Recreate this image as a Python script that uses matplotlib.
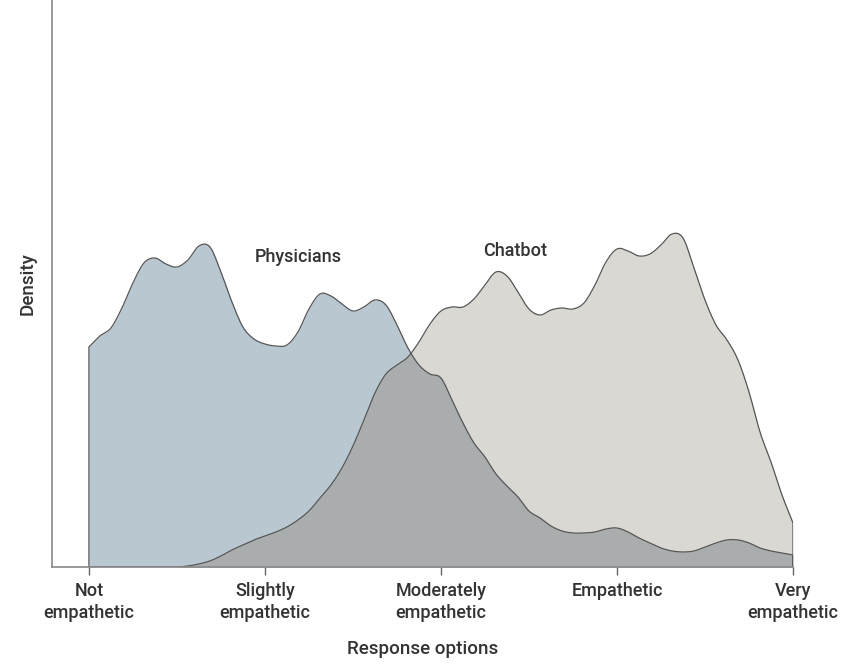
import matplotlib.pyplot as plt
import numpy as np

plt.rcParams['font.family'] = ['Roboto', 'DejaVu Sans']

# response scale (1 = not empathetic ... 5 = very empathetic), read every 1/16 unit
x = np.linspace(1, 5, 65)

# density values (arbitrary units)
physicians = [2.20, 2.31, 2.39, 2.59, 2.84, 3.04, 3.09, 3.03, 3.00, 3.07,
              3.21, 3.20, 2.95, 2.65, 2.40, 2.28, 2.23, 2.21, 2.22, 2.35,
              2.58, 2.73, 2.71, 2.63, 2.56, 2.60, 2.67, 2.62, 2.42, 2.19,
              2.02, 1.93, 1.89, 1.67, 1.44, 1.24, 1.10, 0.93, 0.81, 0.70,
              0.56, 0.49, 0.41, 0.36, 0.34, 0.34, 0.35, 0.38, 0.39, 0.35,
              0.29, 0.24, 0.19, 0.16, 0.15, 0.16, 0.20, 0.24, 0.27, 0.27,
              0.24, 0.19, 0.16, 0.14, 0.12]
chatbot = [0.00, 0.00, 0.00, 0.00, 0.00, 0.00, 0.00, 0.00, 0.00, 0.01,
           0.03, 0.06, 0.11, 0.17, 0.22, 0.27, 0.31, 0.35, 0.40, 0.47,
           0.56, 0.69, 0.82, 0.99, 1.21, 1.47, 1.74, 1.93, 2.02, 2.10,
           2.25, 2.43, 2.56, 2.60, 2.60, 2.68, 2.82, 2.95, 2.91, 2.75,
           2.58, 2.52, 2.57, 2.59, 2.58, 2.64, 2.82, 3.05, 3.18, 3.16,
           3.11, 3.13, 3.22, 3.33, 3.29, 2.99, 2.67, 2.42, 2.27, 2.07,
           1.75, 1.35, 1.05, 0.72, 0.44]

tick_pos = [1, 2, 3, 4, 5]
tick_labels = ['Not\nempathetic', 'Slightly\nempathetic', 'Moderately\nempathetic',
               'Empathetic', 'Very\nempathetic']


def smooth(xs, ys, sub=8):
    # cubic hermite through the read points, only for a rounder outline
    ys = np.asarray(ys, float)
    m = np.gradient(ys)
    t = np.linspace(0, 1, sub, endpoint=False)
    h00 = 2*t**3 - 3*t**2 + 1
    h10 = t**3 - 2*t**2 + t
    h01 = -2*t**3 + 3*t**2
    h11 = t**3 - t**2
    out_x, out_y = [], []
    for i in range(len(ys) - 1):
        out_x.append(xs[i] + t*(xs[i+1] - xs[i]))
        out_y.append(h00*ys[i] + h10*m[i] + h01*ys[i+1] + h11*m[i+1])
    out_x.append([xs[-1]])
    out_y.append([ys[-1]])
    return np.concatenate(out_x), np.clip(np.concatenate(out_y), 0, None)


xs, phys = smooth(x, physicians)
_, chat = smooth(x, chatbot)
overlap = np.minimum(phys, chat)

fig = plt.figure(figsize=(8.56, 6.65), dpi=100)
ax = fig.add_axes([0.0607, 0.1474, 0.8657, 0.8526])

ax.fill_between(xs, 0, phys, color='#b9c7d0', lw=0)
ax.fill_between(xs, 0, chat, color='#d9d8d3', lw=0)
ax.fill_between(xs, 0, overlap, color='#a9adae', lw=0)

# outlines, closed with vertical edges at the ends
edge = '#555555'
ax.plot(np.r_[xs[0], xs, xs[-1]], np.r_[0, phys, 0], color=edge, lw=0.9)
ax.plot(np.r_[xs, xs[-1]], np.r_[chat, 0], color=edge, lw=0.9)

txt = dict(ha='center', va='center', fontsize=13, color='#333333', fontweight='medium')
ax.text(2.19, 3.10, 'Physicians', **txt)
ax.text(3.42, 3.16, 'Chatbot', **txt)

ax.set_xlim(0.79, 5)
ax.set_ylim(0, 5.67)
ax.set_yticks([])
ax.set_xticks(tick_pos)
ax.set_xticklabels(tick_labels, fontsize=13, color='#333333', linespacing=1.25,
                   fontweight='medium')
ax.tick_params(axis='x', length=6, width=1, color='#666666', pad=5)
for s in ['top', 'right']:
    ax.spines[s].set_visible(False)
for s in ['left', 'bottom']:
    ax.spines[s].set_color('#888888')
    ax.spines[s].set_linewidth(1.2)

ax.set_xlabel('Response options', fontsize=13.5, color='#333333', labelpad=13,
              fontweight='medium')
ax.set_ylabel('Density', fontsize=13.5, color='#333333', labelpad=11,
              fontweight='medium')

fig.savefig('out.png', dpi=100)
